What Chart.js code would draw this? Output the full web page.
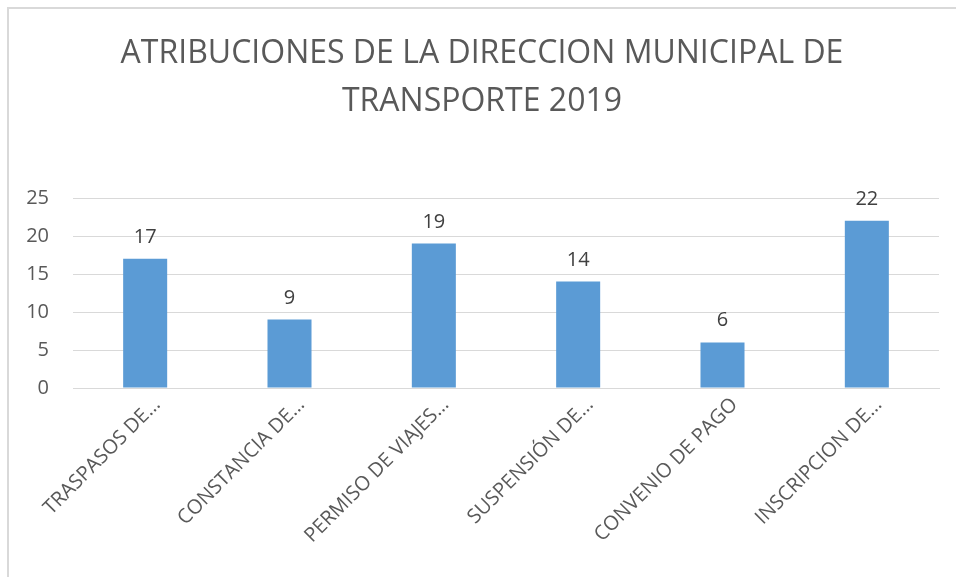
<!DOCTYPE html>
<html>
<head>
<meta charset="utf-8">
<script src="https://cdn.jsdelivr.net/npm/chart.js@4.4.1/dist/chart.umd.min.js"></script>
<style>
  html, body { margin: 0; padding: 0; background: #ffffff; }
  #wrap { position: relative; width: 956px; height: 577px; overflow: hidden; }
  #frame { position: absolute; left: 7px; top: 7px; width: 960px; height: 580px;
           border-left: 2px solid #d9d9d9; border-top: 2px solid #d9d9d9; pointer-events: none; }
  canvas { position: absolute; left: 0; top: 0; }
</style>
</head>
<body>
<div id="wrap">
  <canvas id="c" width="956" height="577"></canvas>
  <div id="frame"></div>
</div>
<script>
const titleLines = ["ATRIBUCIONES DE LA DIRECCION MUNICIPAL DE", "TRANSPORTE 2019"];
const categories = ["TRASPASOS DE…", "CONSTANCIA DE…", "PERMISO DE VIAJES…", "SUSPENSIÓN DE…", "CONVENIO DE PAGO", "INSCRIPCION DE…"];
const values = [17, 9, 19, 14, 6, 22];
const yTicks = [0, 5, 10, 15, 20, 25];

const FONT = "'Open Sans', 'Liberation Sans', sans-serif";

const valueLabels = {
  id: 'valueLabels',
  afterDatasetsDraw(chart) {
    const ctx = chart.ctx;
    const meta = chart.getDatasetMeta(0);
    ctx.save();
    ctx.font = "20px " + FONT;
    ctx.fillStyle = "#404040";
    ctx.textAlign = "center";
    ctx.textBaseline = "alphabetic";
    meta.data.forEach((bar, i) => {
      ctx.fillText(String(values[i]), bar.x, bar.y - 16);
    });
    ctx.restore();
  }
};

new Chart(document.getElementById('c'), {
  type: 'bar',
  data: {
    labels: categories,
    datasets: [{
      data: values,
      backgroundColor: '#5B9BD5',
      borderWidth: 0,
      barPercentage: 0.305,
      categoryPercentage: 1.0
    }]
  },
  options: {
    responsive: false,
    animation: false,
    devicePixelRatio: 1,
    layout: { padding: { left: 25, right: 17, top: 0, bottom: 0 } },
    plugins: {
      legend: { display: false },
      tooltip: { enabled: false },
      title: {
        display: true,
        text: titleLines,
        color: '#595959',
        font: { family: FONT, size: 32, weight: 'normal', lineHeight: 1.5 },
        padding: { top: 30, bottom: 72 }
      }
    },
    scales: {
      x: {
        grid: { display: false, drawTicks: false },
        border: { display: true, color: '#d9d9d9', width: 1 },
        ticks: {
          color: '#595959',
          font: { family: FONT, size: 20 },
          minRotation: 45,
          maxRotation: 45,
          autoSkip: false,
          padding: 5,
          labelOffset: 12
        },
        afterFit(scale) { scale.height = 189; }
      },
      y: {
        min: 0,
        max: 25,
        afterBuildTicks(scale) { scale.ticks = yTicks.map(v => ({ value: v })); },
        grid: { color: '#d9d9d9', lineWidth: 1, drawTicks: false },
        border: { display: false },
        ticks: {
          color: '#595959',
          font: { family: FONT, size: 20 },
          padding: 24
        },
        afterFit(scale) { scale.width = 48; }
      }
    }
  },
  plugins: [valueLabels]
});
</script>
</body>
</html>
